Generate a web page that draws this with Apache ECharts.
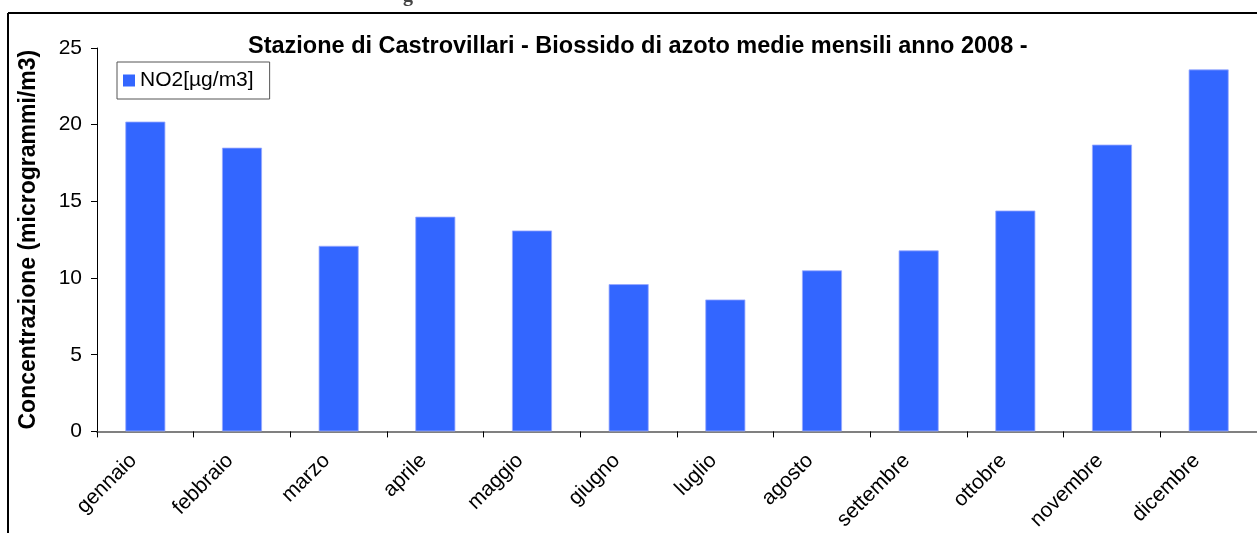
<!DOCTYPE html>
<html>
<head>
<meta charset="utf-8">
<script src="https://cdn.jsdelivr.net/npm/echarts@6/dist/echarts.min.js"></script>
<style>
  html, body { margin: 0; padding: 0; background: #fff; }
  #chart { width: 1257px; height: 533px; }
</style>
</head>
<body>
<div id="chart"></div>
<script>
  // dati
  var mesi = ['gennaio', 'febbraio', 'marzo', 'aprile', 'maggio', 'giugno', 'luglio', 'agosto', 'settembre', 'ottobre', 'novembre', 'dicembre']
  var no2 = [20.2, 18.5, 12.1, 14.0, 13.1, 9.6, 8.6, 10.5, 11.8, 14.4, 18.7, 23.6]
  var serieNome = 'NO2[µg/m3]'
  var titolo = 'Stazione di Castrovillari - Biossido di azoto medie mensili anno 2008 -'
  var asseY = 'Concentrazione (microgrammi/m3)'

  var font = '"Liberation Sans", Arial, sans-serif'
  var myChart = echarts.init(document.getElementById('chart'))
  var option = {
    animation: false,
    textStyle: { fontFamily: font },
    title: {
      text: titolo,
      left: 243,
      top: 30,
      textStyle: { fontSize: 23.5, fontWeight: 'bold', color: '#000', fontFamily: font }
    },
    legend: {
      left: 117,
      top: 62,
      orient: 'vertical',
      icon: 'rect',
      itemWidth: 12,
      itemHeight: 12,
      itemGap: 0,
      padding: [8, 16, 8, 6],
      borderColor: '#555',
      borderWidth: 1,
      itemStyle: { borderWidth: 0 },
      textStyle: { fontSize: 21, color: '#000', fontFamily: font },
      data: [serieNome]
    },
    grid: {
      left: 97,
      right: -1,
      top: 48,
      bottom: 101
    },
    xAxis: {
      type: 'category',
      data: mesi,
      axisLine: { lineStyle: { color: '#808080', width: 2 } },
      axisTick: { show: true, length: 6, lineStyle: { color: '#000' } },
      axisLabel: {
        rotate: 45,
        fontSize: 21,
        color: '#000',
        margin: 14,
        padding: [0, 17, 0, 0],
        interval: 0
      }
    },
    yAxis: {
      type: 'value',
      min: 0,
      max: 25,
      interval: 5,
      name: asseY,
      nameLocation: 'middle',
      nameGap: 57,
      nameTextStyle: { fontSize: 23, fontWeight: 'bold', color: '#000' },
      axisLine: { show: true, lineStyle: { color: '#000', width: 1 } },
      axisTick: { show: true, length: 6, lineStyle: { color: '#000' } },
      axisLabel: { fontSize: 21, color: '#000', margin: 15 },
      splitLine: { show: false }
    },
    series: [
      {
        name: serieNome,
        type: 'bar',
        data: no2,
        barWidth: 40,
        itemStyle: {
          color: '#3366ff',
          borderColor: '#99aaff',
          borderWidth: 0.8
        }
      }
    ],
    graphic: [
      // cornice
      { type: 'line', shape: { x1: 8, y1: 13, x2: 1257, y2: 13 }, style: { stroke: '#000', lineWidth: 2 } },
      { type: 'line', shape: { x1: 8, y1: 13, x2: 8, y2: 533 }, style: { stroke: '#000', lineWidth: 2 } },
      // testo tagliato in alto
      { type: 'text', left: 403, top: -14, style: { text: 'g', font: 'bold 20px "Liberation Serif", serif', fill: '#444' } }
    ]
  }
  myChart.setOption(option)
</script>
</body>
</html>
